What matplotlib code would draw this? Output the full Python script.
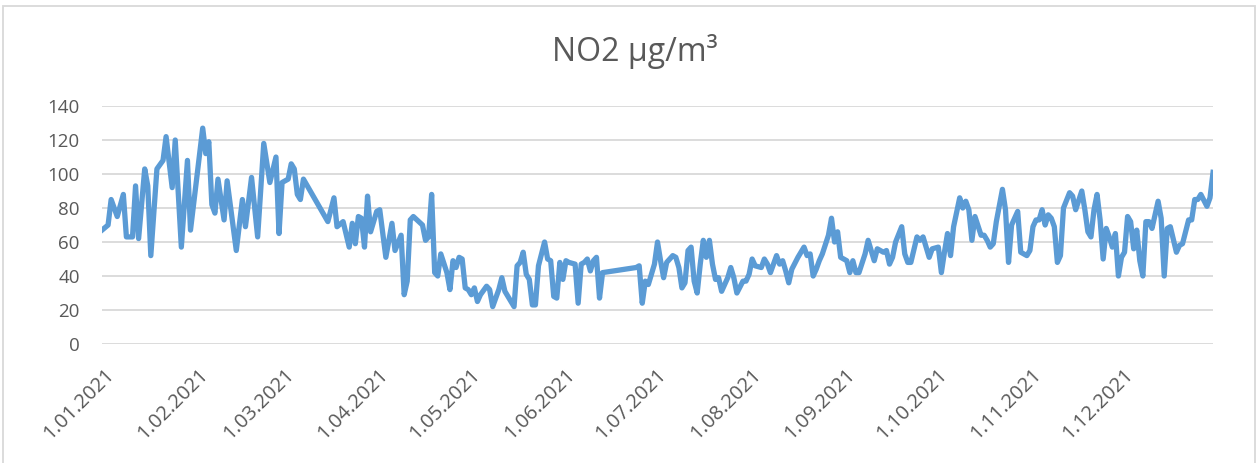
import numpy as np
import pandas as pd
import matplotlib
matplotlib.use("Agg")
import matplotlib.pyplot as plt
import matplotlib.dates as mdates
import matplotlib.transforms as mtransforms
from matplotlib.patches import Rectangle

# dag-nummer in 2021 (0 = 1 januari) en gemeten NO2 waarde
days = [0, 2, 3, 5, 7, 8, 10, 11, 12, 14, 15, 16, 18, 20, 21, 23, 24, 26, 28, 29,
        33, 34, 35, 36, 37, 38, 40, 41, 44, 46, 47, 49, 51, 53, 55, 57, 58, 59, 61, 62,
        63, 64, 65, 66, 74, 76, 77, 79, 81, 82, 83, 84, 85, 86, 87, 88, 90, 91, 93, 95,
        96, 98, 99, 100, 101, 102, 105, 106, 107, 108, 109, 110, 111, 113, 114, 115, 116, 117, 118, 119,
        120, 121, 122, 123, 124, 126, 127, 128, 130, 131, 132, 133, 135, 136, 137, 138, 139, 140, 141, 142,
        143, 145, 146, 147, 148, 149, 150, 151, 152, 153, 155, 156, 157, 158, 159, 160, 161, 162, 163, 164,
        175, 176, 177, 178, 179, 181, 182, 183, 184, 185, 187, 188, 189, 190, 191, 192, 193, 194, 195, 196,
        197, 198, 199, 200, 201, 202, 203, 205, 206, 207, 208, 210, 211, 212, 213, 214, 216, 217, 218, 219,
        221, 222, 223, 224, 225, 226, 228, 229, 230, 231, 232, 233, 234, 235, 236, 238, 239, 240, 241, 242,
        244, 245, 246, 247, 248, 250, 251, 252, 253, 254, 256, 257, 258, 259, 260, 262, 263, 264, 265, 267,
        268, 269, 270, 271, 272, 274, 275, 276, 277, 278, 279, 281, 282, 283, 284, 285, 286, 288, 289, 290,
        291, 292, 293, 295, 296, 297, 298, 300, 301, 302, 303, 304, 305, 306, 307, 308, 309, 310, 311, 312,
        313, 314, 315, 317, 318, 319, 321, 322, 323, 324, 325, 326, 327, 328, 329, 330, 331, 332, 333, 334,
        335, 336, 337, 338, 339, 340, 341, 342, 343, 344, 346, 347, 348, 349, 350, 352, 353, 354, 356, 357,
        358, 359, 360, 362, 363, 364]
no2 = [67, 70, 85, 75, 88, 63, 63, 93, 62, 103, 93, 52, 103, 108, 122, 92, 120, 57, 108, 67,
       127, 112, 119, 82, 77, 97, 73, 96, 55, 85, 69, 98, 63, 118, 95, 110, 65, 95, 97, 106,
       103, 88, 85, 97, 72, 86, 69, 72, 57, 71, 59, 75, 74, 57, 87, 66, 78, 79, 51, 71,
       55, 64, 29, 37, 73, 75, 70, 61, 63, 88, 42, 40, 53, 42, 32, 49, 45, 51, 50, 33,
       32, 29, 33, 25, 29, 34, 32, 22, 32, 39, 31, 28, 22, 46, 48, 54, 41, 38, 23, 23,
       46, 60, 50, 49, 28, 27, 48, 38, 49, 48, 47, 24, 47, 48, 50, 43, 49, 51, 27, 42,
       45, 46, 24, 37, 35, 47, 60, 49, 39, 48, 52, 51, 45, 33, 36, 55, 57, 37, 30, 47,
       61, 51, 61, 47, 38, 39, 31, 39, 45, 39, 30, 37, 37, 41, 50, 46, 45, 50, 47, 42,
       52, 47, 49, 43, 36, 44, 51, 54, 57, 52, 53, 40, 44, 49, 53, 64, 74, 60, 66, 51,
       49, 42, 49, 42, 42, 53, 61, 55, 49, 56, 54, 55, 47, 51, 60, 69, 53, 48, 48, 63,
       61, 63, 57, 51, 56, 57, 42, 54, 65, 52, 69, 86, 80, 84, 79, 61, 75, 64, 64, 61,
       57, 59, 72, 91, 79, 48, 70, 78, 54, 53, 52, 55, 69, 73, 73, 79, 70, 76, 74, 69,
       48, 52, 80, 89, 87, 79, 90, 79, 66, 63, 79, 88, 73, 50, 68, 63, 57, 65, 40, 51,
       54, 75, 72, 56, 67, 49, 40, 72, 72, 68, 84, 74, 40, 68, 69, 54, 58, 59, 73, 73,
       85, 85, 88, 81, 86, 101]

y_ticks = [0, 20, 40, 60, 80, 100, 120, 140]

dates = pd.Timestamp("2021-01-01") + pd.to_timedelta(days, unit="D")

fig = plt.figure(figsize=(12.59, 4.63), dpi=100)
ax = fig.add_axes([0.081, 0.257, 0.8825, 0.514])

ax.plot(dates, no2, color="#5B9BD5", linewidth=3.8, solid_joinstyle="round")

ax.set_xlim(pd.Timestamp("2021-01-01"), pd.Timestamp("2021-12-31"))
ax.set_ylim(0, 140)
ax.set_yticks(y_ticks)
ax.grid(axis="y", color="#D9D9D9", linewidth=1.3)
ax.set_axisbelow(True)
for s in ax.spines.values():
    s.set_visible(False)

ax.xaxis.set_major_locator(mdates.MonthLocator())
ax.xaxis.set_major_formatter(plt.FuncFormatter(
    lambda v, p: "{0}.{1:02d}.{2}".format(mdates.num2date(v).day, mdates.num2date(v).month, mdates.num2date(v).year)))
ax.tick_params(axis="both", length=0, colors="#595959")
ax.tick_params(axis="y", pad=16, labelsize=13.5)
ax.tick_params(axis="x", pad=15, labelsize=14.5)
shift = mtransforms.ScaledTranslation(2 / 100, 0, fig.dpi_scale_trans)
for lab in ax.get_xticklabels():
    lab.set_rotation(45)
    lab.set_ha("right")
    lab.set_va("top")
    lab.set_rotation_mode("anchor")
    lab.set_transform(lab.get_transform() + shift)
for lab in ax.get_xticklabels() + ax.get_yticklabels():
    lab.set_family("Open Sans")

fig.text(0.504, 0.888, "NO2 µg/m³", ha="center", va="center", fontsize=23,
         color="#595959", family="Open Sans")

fig.patches.append(Rectangle((3 / 1259, -0.05), 1252 / 1259, 1.05 - 6 / 463,
                             transform=fig.transFigure, fill=False,
                             edgecolor="#D9D9D9", linewidth=1.3))

fig.savefig("out.png", dpi=100)
